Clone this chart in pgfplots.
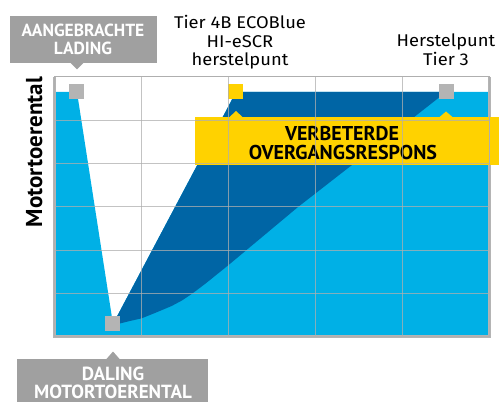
\documentclass[border=0pt]{standalone}
\usepackage{pgfplots}
\pgfplotsset{compat=1.18}
\usepackage{fontspec}
\setmainfont{PT Sans}
\newfontfamily\regfont{Fira Sans}[FakeStretch=1.08]
\definecolor{cyanf}{RGB}{0,176,230}
\definecolor{darkf}{RGB}{0,101,165}
\definecolor{yel}{RGB}{255,210,0}
\definecolor{boxg}{RGB}{160,160,160}
\definecolor{sqg}{RGB}{180,180,180}
\definecolor{gridg}{RGB}{175,175,175}
\begin{document}
\begin{tikzpicture}
\begin{axis}[
  set layers, axis on top,
  width=434pt, height=260pt, scale only axis,
  xmin=0, xmax=5, ymin=0, ymax=6,
  xtick={0,1,2,3,4,5}, ytick={0,1,2,3,4,5,6},
  xticklabels={}, yticklabels={},
  major tick length=0pt,
  grid=major,
  major grid style={draw=gridg, line width=1pt, opacity=0.75},
  axis line style={draw=gridg, line width=1pt},
  clip=false,
]
% light blue base area
\addplot[draw=none, fill=cyanf] coordinates {
  (0,0) (0,5.654) (0.253,5.654) (0.668,0.30) (2.085,5.654) (5,5.654) (5,0)
} -- cycle;
% dark blue improved response area
\addplot[draw=none, fill=darkf] coordinates {
  (0.668,0.30) (2.085,5.654) (4.505,5.654)
  (4.124,5.054) (3.422,3.970) (2.800,3.000) (2.304,2.170) (1.993,1.650)
  (1.728,1.223) (1.575,0.992) (1.463,0.843) (1.344,0.715) (1.152,0.554)
  (0.999,0.431) (0.864,0.369) (0.749,0.312)
} -- cycle;
% points
\addplot[on layer=axis foreground, only marks, color=sqg, mark=square*, mark size=7pt, mark options={draw=sqg, fill=sqg, line width=0pt}] coordinates {
  (0.253,5.654) (0.668,0.30) (4.505,5.654)
};
\addplot[on layer=axis foreground, only marks, color=yel, mark=square*, mark size=7pt, mark options={draw=yel, fill=yel, line width=0pt}] coordinates {
  (2.085,5.654)
};
\draw[sqg, line width=3pt] (rel axis cs:0,1) -- (rel axis cs:0,0) -- (rel axis cs:1,0) -- (rel axis cs:1,1);
\coordinate (TL) at (rel axis cs:-0.12673,1.29615);
\coordinate (BR) at (rel axis cs:1.02304,-0.25);
\end{axis}
\pgfresetboundingbox
\path[use as bounding box] (TL) rectangle (BR);
\begin{scope}[shift={(TL)}, x=1pt, y=-1pt]
  % top left gray label
  \fill[boxg] (10,16) rectangle (157,63);
  \fill[boxg] (70,62.5) -- (84,62.5) -- (77,69.5) -- cycle;
  \node[anchor=base, white, font=\fontsize{17.5}{17.5}\selectfont\bfseries, inner sep=0pt] at (83,37) {AANGEBRACHTE};
  \node[anchor=base, white, font=\fontsize{17.5}{17.5}\selectfont\bfseries, inner sep=0pt] at (83,55) {LADING};
  % bottom gray label
  \fill[boxg] (17,359) rectangle (208,410);
  \fill[boxg] (106,359.5) -- (120,359.5) -- (113,351.5) -- cycle;
  \node[anchor=base, white, font=\fontsize{19}{19}\selectfont\bfseries, inner sep=0pt] at (113,380) {DALING};
  \node[anchor=base, white, font=\fontsize{19}{19}\selectfont\bfseries, inner sep=0pt] at (113,398) {MOTORTOERENTAL};
  % yellow label
  \fill[yel] (195,117) rectangle (505,165);
  \fill[yel] (229,117.5) -- (243,117.5) -- (236,111) -- cycle;
  \fill[yel] (439,117.5) -- (453,117.5) -- (446,111.5) -- cycle;
  \node[anchor=base, black, font=\fontsize{20}{20}\selectfont\bfseries, inner sep=0pt] at (342,141) {VERBETERDE};
  \node[anchor=base, black, font=\fontsize{20}{20}\selectfont\bfseries, inner sep=0pt] at (343,160) {OVERGANGSRESPONS};
  % black labels
  \node[anchor=base, black, font=\regfont\fontsize{17}{17}\selectfont, inner sep=0pt] at (240,29) {Tier 4B ECOBlue};
  \node[anchor=base, black, font=\regfont\fontsize{17}{17}\selectfont, inner sep=0pt] at (240,48) {HI-eSCR};
  \node[anchor=base, black, font=\regfont\fontsize{17}{17}\selectfont, inner sep=0pt] at (240,66) {herstelpunt};
  \node[anchor=base, black, font=\regfont\fontsize{17}{17}\selectfont, inner sep=0pt] at (446,47) {Herstelpunt};
  \node[anchor=base, black, font=\regfont\fontsize{17}{17}\selectfont, inner sep=0pt] at (446,66) {Tier 3};
  % y label
  \node[anchor=base, rotate=90, black, font=\fontsize{23}{23}\selectfont\bfseries, inner sep=0pt] at (42,152) {Motortoerental};
\end{scope}
\end{tikzpicture}
\end{document}
